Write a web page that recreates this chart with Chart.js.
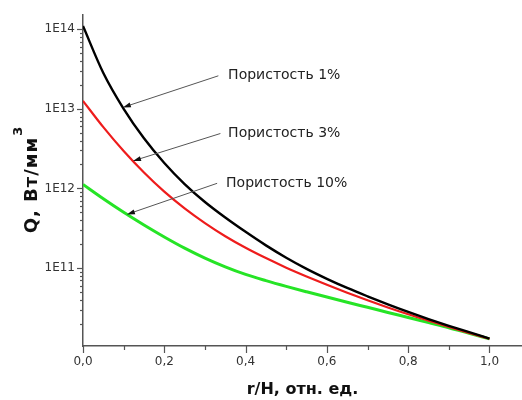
<!DOCTYPE html>
<html><head><meta charset="utf-8">
<script src="https://cdn.jsdelivr.net/npm/chart.js@4"></script>
<style>html,body{margin:0;padding:0;background:#fff}</style>
</head><body>
<canvas id="c" width="522" height="400"></canvas>
<script>
// ---- data ----
const rValues = [0,0.05,0.1,0.15,0.2,0.25,0.3,0.35,0.4,0.45,0.5,0.55,0.6,0.65,0.7,0.75,0.8,0.85,0.9,0.95,1.0];
const qPor1  = [1.096e14,2.818e13,1.000e13,4.266e12,2.089e12,1.135e12,6.761e11,4.315e11,2.851e11,1.928e11,1.349e11,9.772e10,7.328e10,5.623e10,4.416e10,3.508e10,2.818e10,2.291e10,1.884e10,1.567e10,1.300e10];
const qPor3  = [1.259e13,5.888e12,2.951e12,1.585e12,9.120e11,5.623e11,3.673e11,2.512e11,1.799e11,1.334e11,1.012e11,7.852e10,6.166e10,4.898e10,3.936e10,3.199e10,2.630e10,2.188e10,1.820e10,1.531e10,1.295e10];
const qPor10 = [1.122e12,7.413e11,5.012e11,3.467e11,2.455e11,1.778e11,1.334e11,1.035e11,8.318e10,6.950e10,5.888e10,5.035e10,4.325e10,3.724e10,3.214e10,2.773e10,2.393e10,2.065e10,1.782e10,1.514e10,1.290e10];
const seriesLabels = ['Пористость 1%','Пористость 3%','Пористость 10%'];
const xTickValues = [0,0.1,0.2,0.3,0.4,0.5,0.6,0.7,0.8,0.9,1.0];
const xTickLabels = ['0,0','','0,2','','0,4','','0,6','','0,8','','1,0'];
const yMajorTicks = [1e11,1e12,1e13,1e14];
const yTickLabels = ['1E11','1E12','1E13','1E14'];
const xTitle = 'r/H, отн. ед.';
const yTitleMain = 'Q, Вт/мм';
const yTitleSup = '3';

// ---- derived ----
const Y_MIN = 1.05e10, Y_MAX = 1.5e14;
const yAllTicks = [];
[1e10,1e11,1e12,1e13,1e14].forEach(d => { for (let k=1;k<10;k++){ const v=d*k; if (v>=Y_MIN && v<=Y_MAX) yAllTicks.push(v); } });
const seriesData = [qPor1,qPor3,qPor10];
const colors = ['#000000','#ee1c1c','#26e426'];
const widths = [2.4,2.2,3.0];
const FONT = 'DejaVu Sans';

const notes = [
  {series:0, tipX:0.098, fromX:0.333, textX:0.357, textY:2.6e13},
  {series:1, tipX:0.123, fromX:0.338, textX:0.357, textY:4.9e12},
  {series:2, tipX:0.108, fromX:0.330, textX:0.352, textY:1.16e12}
];
function interpLog(arr, x){
  for (let i=0;i<rValues.length-1;i++){
    if (x>=rValues[i] && x<=rValues[i+1]){
      const t=(x-rValues[i])/(rValues[i+1]-rValues[i]);
      return Math.pow(10, Math.log10(arr[i])*(1-t)+Math.log10(arr[i+1])*t);
    }
  }
  return arr[arr.length-1];
}

const extras = {
  id:'extras',
  afterDraw(chart){
    const ctx = chart.ctx, xs = chart.scales.x, ys = chart.scales.y;
    ctx.save();
    ctx.strokeStyle = '#555'; ctx.lineWidth = 1.2;
    ys.ticks.forEach(t => {
      const py = Math.round(ys.getPixelForValue(t.value))+0.5;
      const major = yMajorTicks.some(m => Math.abs(m - t.value)/m < 1e-6);
      const len = major ? 6 : 3;
      ctx.beginPath(); ctx.moveTo(ys.right - len, py); ctx.lineTo(ys.right, py); ctx.stroke();
    });
    xs.ticks.forEach((t,i) => {
      const px = Math.round(xs.getPixelForValue(t.value))+0.5;
      const major = xTickLabels[i] !== '';
      const len = major ? 7 : 4;
      ctx.beginPath(); ctx.moveTo(px, xs.top); ctx.lineTo(px, xs.top + len); ctx.stroke();
    });
    notes.forEach(n => {
      const tipVal = interpLog(seriesData[n.series], n.tipX);
      const tx = xs.getPixelForValue(n.tipX), ty = ys.getPixelForValue(tipVal);
      const fx = xs.getPixelForValue(n.fromX), fy = ys.getPixelForValue(n.textY);
      const ang = Math.atan2(ty-fy, tx-fx);
      ctx.strokeStyle = '#555'; ctx.lineWidth = 1;
      ctx.beginPath(); ctx.moveTo(fx,fy); ctx.lineTo(tx - 6*Math.cos(ang), ty - 6*Math.sin(ang)); ctx.stroke();
      ctx.fillStyle = '#111';
      ctx.beginPath();
      ctx.moveTo(tx,ty);
      ctx.lineTo(tx - 8*Math.cos(ang) + 2.5*Math.sin(ang), ty - 8*Math.sin(ang) - 2.5*Math.cos(ang));
      ctx.lineTo(tx - 8*Math.cos(ang) - 2.5*Math.sin(ang), ty - 8*Math.sin(ang) + 2.5*Math.cos(ang));
      ctx.closePath(); ctx.fill();
      ctx.fillStyle = '#222';
      ctx.font = '14px "' + FONT + '"';
      ctx.textAlign = 'left'; ctx.textBaseline = 'middle';
      ctx.fillText(seriesLabels[n.series], xs.getPixelForValue(n.textX), fy);
    });
    // y title with superscript
    ctx.fillStyle = '#111';
    const cy = 180;
    ctx.translate(37, cy);
    ctx.rotate(-Math.PI/2);
    try { ctx.letterSpacing = '1px'; } catch(e) {}
    ctx.font = 'bold 18px "' + FONT + '"';
    const wm = ctx.measureText(yTitleMain).width;
    ctx.font = 'bold 13px "' + FONT + '"';
    const wsup = ctx.measureText(yTitleSup).width;
    const start = -(wm + wsup)/2;
    ctx.textAlign = 'left'; ctx.textBaseline = 'alphabetic';
    ctx.font = 'bold 18px "' + FONT + '"';
    ctx.fillText(yTitleMain, start, 0);
    ctx.font = 'bold 13px "' + FONT + '"';
    ctx.fillText(yTitleSup, start + wm + 1, -15);
    ctx.restore();
  }
};

new Chart(document.getElementById('c'), {
  type:'scatter',
  data:{ datasets: seriesData.map((arr,i) => ({
    label: seriesLabels[i],
    data: rValues.map((r,j) => ({x:r, y:arr[j]})),
    showLine:true, borderColor:colors[i], backgroundColor:colors[i],
    borderWidth:widths[i], pointRadius:0, cubicInterpolationMode:'monotone', fill:false
  }))},
  options:{
    responsive:false, animation:false, devicePixelRatio:1,
    layout:{padding:{top:14,right:0,left:0,bottom:0}},
    plugins:{legend:{display:false}, tooltip:{enabled:false}},
    scales:{
      x:{type:'linear', min:0, max:1.08,
        afterBuildTicks: s => { s.ticks = xTickValues.map(v => ({value:v})); },
        afterFit: s => { s.height = 54; },
        ticks:{ callback:(v,i) => xTickLabels[i], font:{family:FONT, size:12}, color:'#333', padding:9, maxRotation:0, autoSkip:false },
        grid:{display:false, drawTicks:false},
        border:{display:true, color:'#555', width:1.5},
        title:{display:true, text:xTitle, font:{family:FONT, size:16, weight:'bold'}, color:'#111', padding:{top:0,bottom:1}}
      },
      y:{type:'logarithmic', min:Y_MIN, max:Y_MAX,
        afterBuildTicks: s => { s.ticks = yAllTicks.map(v => ({value:v})); },
        afterFit: s => { s.width = 83; },
        ticks:{ callback:(v) => { const k = yMajorTicks.findIndex(m => Math.abs(m-v)/m < 1e-6); return k>=0 ? yTickLabels[k] : ''; },
          font:{family:FONT, size:12}, color:'#333', padding:8, autoSkip:false },
        grid:{display:false, drawTicks:false},
        border:{display:true, color:'#555', width:1.5}
      }
    }
  },
  plugins:[extras]
});
</script>
</body></html>
